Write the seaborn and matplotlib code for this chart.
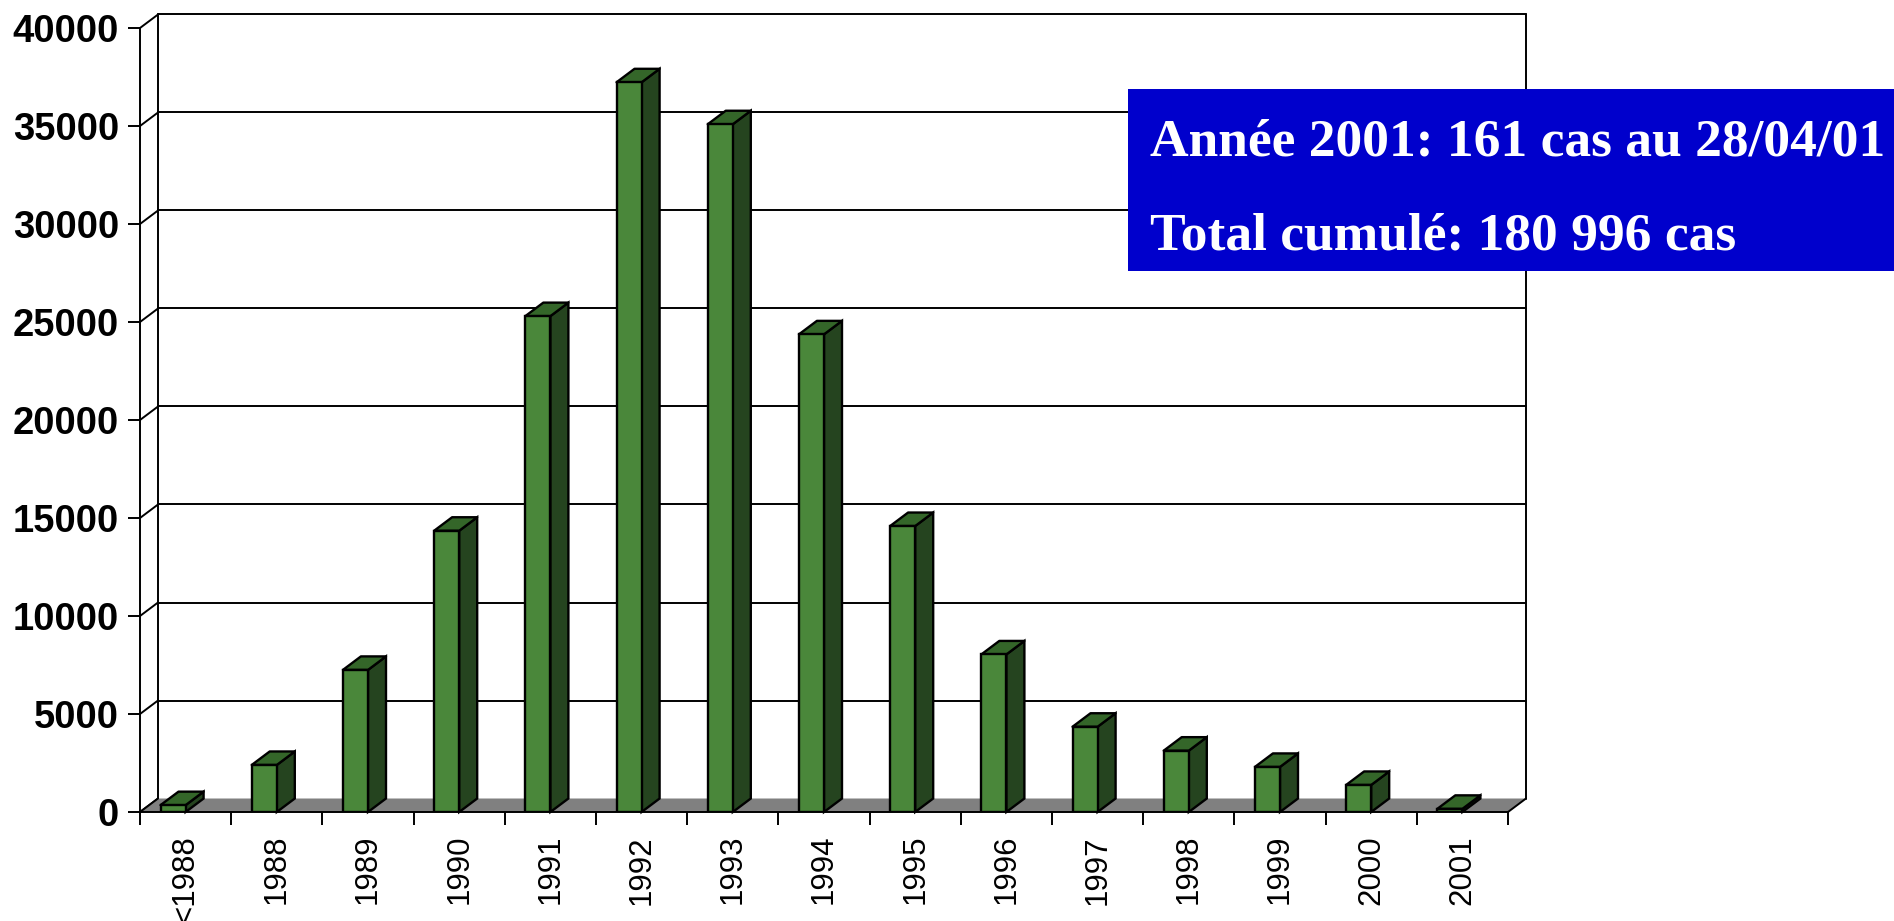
import matplotlib
matplotlib.use("Agg")
import matplotlib.pyplot as plt
import seaborn as sns
import pandas as pd
from matplotlib.patches import Polygon, Rectangle
from matplotlib.lines import Line2D

# ---- data ----
categories = ["<1988", "1988", "1989", "1990", "1991", "1992", "1993", "1994",
              "1995", "1996", "1997", "1998", "1999", "2000", "2001"]
cases = [350, 2400, 7250, 14350, 25300, 37230, 35090, 24370,
         14590, 8040, 4350, 3130, 2300, 1380, 161]
y_ticks = [0, 5000, 10000, 15000, 20000, 25000, 30000, 35000, 40000]
note_lines = ["Année 2001: 161 cas au 28/04/01", "Total cumulé: 180 996 cas"]

# ---- style ----
FRONT = "#4a873a"
TOP = "#346629"
SIDE = "#25441f"
FLOOR = "#808080"
BOX = "#0000cc"

sns.set_theme(style="white")
plt.rcParams['font.family'] = ['Liberation Sans', 'DejaVu Sans']

FW, FH = 1894, 921
fig = plt.figure(figsize=(FW / 100, FH / 100), dpi=100)
fig.patch.set_facecolor("white")
ax_l, ax_r, ax_t, ax_b = 140, 1508, 28, 812
ax = fig.add_axes([ax_l / FW, (FH - ax_b) / FH, (ax_r - ax_l) / FW, (ax_b - ax_t) / FH])
ax.set_facecolor("none")

EDGE_LW = 1.7
LW = 1.4

df = pd.DataFrame({"annee": categories, "cas": cases})
BAR_W = 0.275
sns.barplot(data=df, x="annee", y="cas", order=categories, width=BAR_W,
            color=FRONT, saturation=1, edgecolor="black", linewidth=EDGE_LW,
            errorbar=None, ax=ax, zorder=6)
bar_patches = list(ax.patches)

n = len(categories)
xmin = -BAR_W / 2 - 0.225          # left category boundary
xmax = xmin + n
ymax = y_ticks[-1]
ax.set_xlim(xmin, xmax)
ax.set_ylim(0, ymax)

# depth offset (pixels -> data units)
DX_PX, DY_PX = 18, 13.5
dx = DX_PX * (xmax - xmin) / (ax_r - ax_l)
dy = DY_PX * ymax / (ax_b - ax_t)

# back wall gridlines and side wall diagonals
for yv in y_ticks:
    if yv > 0:
        ax.add_line(Line2D([xmin + dx, xmax + dx], [yv + dy, yv + dy], color="black",
                           lw=LW, zorder=1, clip_on=False))
    ax.add_line(Line2D([xmin, xmin + dx], [yv, yv + dy], color="black",
                       lw=LW, zorder=1, clip_on=False))
# back wall verticals
for xv in (xmin + dx, xmax + dx):
    ax.add_line(Line2D([xv, xv], [dy, ymax + dy], color="black", lw=LW,
                       zorder=1, clip_on=False))
# floor
ax.add_patch(Polygon([(xmin, 0), (xmax, 0), (xmax + dx, dy), (xmin + dx, dy)],
                     closed=True, facecolor=FLOOR, edgecolor="none", zorder=2,
                     clip_on=False))
ax.add_line(Line2D([xmin, xmin + dx], [0, dy], color="black", lw=LW, zorder=3, clip_on=False))
ax.add_line(Line2D([xmax, xmax + dx], [0, dy], color="black", lw=LW, zorder=3, clip_on=False))

# 3D sides and tops of bars
for p in bar_patches:
    x0 = p.get_x()
    x1 = x0 + p.get_width()
    h = p.get_height()
    if h <= 0:
        continue
    side = Polygon([(x1, 0), (x1, h), (x1 + dx, h + dy), (x1 + dx, dy)], closed=True,
                   facecolor=SIDE, edgecolor="black", lw=EDGE_LW, zorder=5, clip_on=False)
    top = Polygon([(x0, h), (x1, h), (x1 + dx, h + dy), (x0 + dx, h + dy)], closed=True,
                  facecolor=TOP, edgecolor="black", lw=EDGE_LW, zorder=5, clip_on=False,
                  joinstyle="round")
    ax.add_patch(side)
    ax.add_patch(top)

# spines
for s in ("top", "right"):
    ax.spines[s].set_visible(False)
for s in ("left", "bottom"):
    ax.spines[s].set_color("black")
    ax.spines[s].set_linewidth(LW)
    ax.spines[s].set_zorder(7)

# y axis
ax.set_yticks(y_ticks)
ax.set_yticklabels([str(v) for v in y_ticks], fontsize=27.5, fontweight="bold",
                   color="black")
ax.tick_params(axis="y", direction="out", length=8.6, width=LW, color="black",
               pad=6.5, left=True)
ax.set_ylabel("")

# x axis: boundary ticks (major) + labels at centres (minor)
bounds = [xmin + k for k in range(n + 1)]
centres = [xmin + 0.5 + k for k in range(n)]
ax.set_xticks(bounds)
ax.set_xticklabels([""] * len(bounds))
ax.set_xticks(centres, minor=True)
ax.set_xticklabels(categories, minor=True, rotation=90, fontsize=22.5, color="black")
ax.tick_params(axis="x", which="major", direction="out", length=9.4, width=LW,
               color="black", bottom=True)
ax.tick_params(axis="x", which="minor", length=0, pad=16.5, bottom=True)
ax.set_xlabel("")
ax.grid(False)

# annotation box
fig.add_artist(Rectangle((1128 / FW, (FH - 271) / FH), (FW - 1128) / FW, (271 - 89) / FH,
                         transform=fig.transFigure, facecolor=BOX, edgecolor="none",
                         zorder=10))
for line, base in zip(note_lines, (155, 249)):
    fig.text(1150 / FW, (FH - base) / FH, line, color="white", fontsize=38.5,
             fontweight="bold", family=["Liberation Serif", "DejaVu Serif"],
             va="baseline", ha="left", zorder=11)

fig.savefig("out.png", dpi=100, facecolor="white")
